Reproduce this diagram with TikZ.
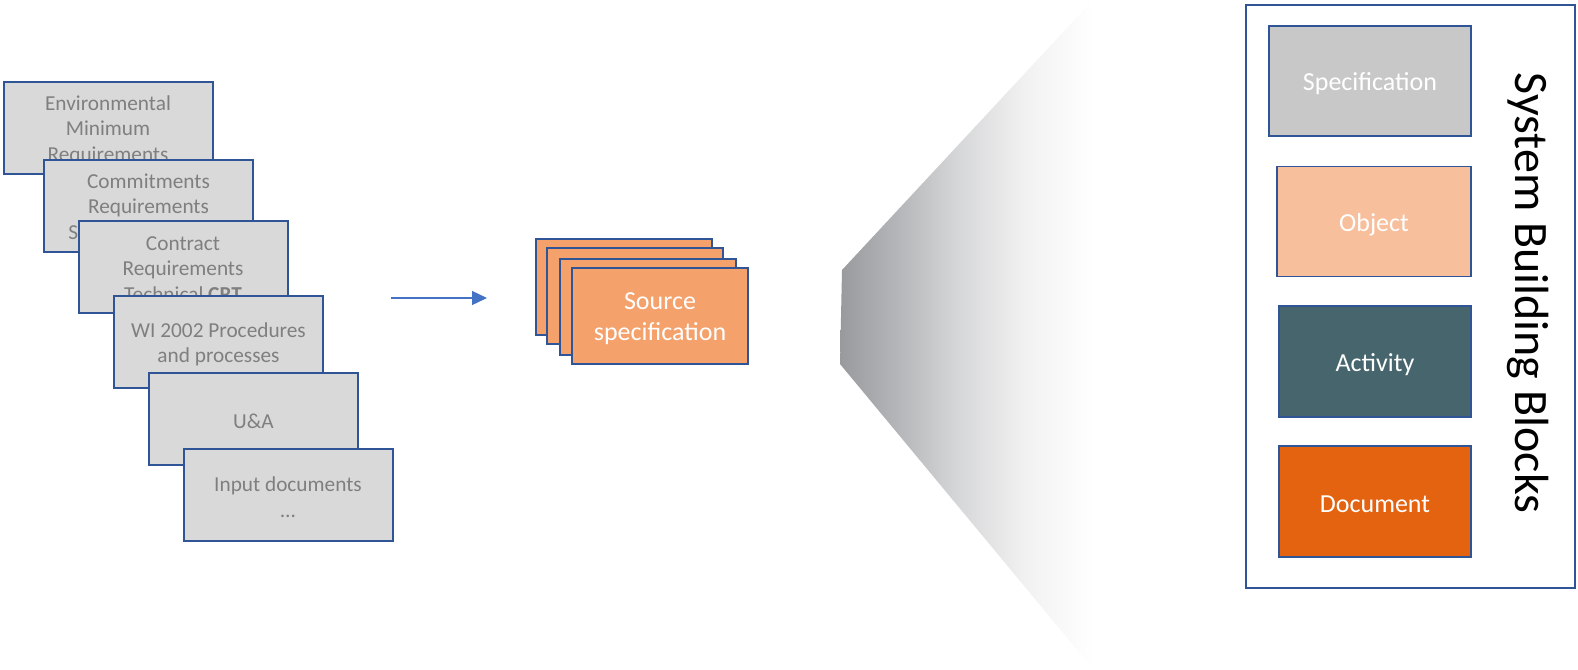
\documentclass[tikz,border=0pt]{standalone}
\usepackage{fontspec}
\setmainfont{Carlito}
\usetikzlibrary{arrows.meta}
\definecolor{docfill}{HTML}{D9D9D9}
\definecolor{docline}{HTML}{2F5597}
\definecolor{doctext}{HTML}{7F7F7F}
\definecolor{srcfill}{HTML}{F4A16B}
\definecolor{specfill}{HTML}{C8C8C8}
\definecolor{objfill}{HTML}{F8BF9C}
\definecolor{actfill}{HTML}{46656D}
\definecolor{docufill}{HTML}{E36311}
\definecolor{arrowblue}{HTML}{4472C4}
\definecolor{fanA}{HTML}{999A9E}
\definecolor{fanB}{HTML}{B5B6B9}
\definecolor{fanC}{HTML}{D5D6D7}
\definecolor{fanD}{HTML}{F1F1F1}
\pgfdeclarehorizontalshading{fanshade}{100bp}{color(0bp)=(fanA); color(25bp)=(fanA); color(36.5bp)=(fanB); color(48bp)=(fanC); color(61.5bp)=(fanD); color(75bp)=(white); color(100bp)=(white)}
\begin{document}
\begin{tikzpicture}[x=1pt,y=-1pt,
  docbox/.style={draw=docline, line width=2pt, fill=docfill,
    minimum width=209pt, minimum height=92pt, inner sep=0pt},
  doctxt/.style={text=doctext, inner sep=0pt, align=center,
    font=\fontsize{21.3}{25.6}\selectfont},
  srcbox/.style={draw=docline, line width=2pt, fill=srcfill,
    minimum width=176pt, minimum height=96pt, inner sep=0pt},
  whitetxt/.style={text=white, inner sep=0pt, align=center,
    font=\fontsize{26}{31}\selectfont},
  blockbox/.style={draw=docline, line width=1.5pt,
    minimum height=110pt, inner sep=0pt},
  panelbox/.style={draw=docline, line width=2pt, fill=white,
    minimum width=329pt, minimum height=583pt, inner sep=0pt},
  flowarrow/.style={draw=arrowblue, line width=1.3pt,
    -{Triangle[length=15pt,width=14pt]}}
]
\useasboundingbox (0,0) rectangle (1578,669);

% gradient fan
\shade[shading=fanshade] (842,270) -- (1093,0) -- (1093,669) -- (840,364) -- cycle;

% input documents
\node[docbox] (d1) at (108,127.5) {};
\node[doctxt] (d1t) at ([yshift=-2.5pt]d1.center) {Environmental\\Minimum\\Requirements};
\node[docbox] (d2) at (148.5,205.5) {};
\node[doctxt] (d2t) at ([yshift=-2.5pt]d2.center) {Commitments\\Requirements\\Specification (CRS)};
\node[docbox] (d3) at (183,266.5) {};
\node[doctxt] (d3t) at ([yshift=-2.5pt]d3.center) {Contract\\Requirements\\Technical \textbf{CRT}};
\node[docbox] (d4) at (218.5,342) {};
\node[doctxt] (d4t) at ([yshift=-2.5pt]d4.center) {WI 2002 Procedures\\and processes};
\node[docbox] (d5) at (253.5,418.5) {};
\node[doctxt] (d5t) at ([yshift=-2.5pt]d5.center) {U\&A};
\node[docbox] (d6) at (288,494.5) {};
\node[doctxt] (d6t) at ([yshift=-2.5pt]d6.center) {Input documents\\\dots};

% arrow
\coordinate (arrS) at (391,298);
\coordinate (arrE) at (487,298);
\draw[flowarrow] (arrS) -- (arrE);

% source specification stack
\node[srcbox] (s1) at (624,287) {};
\node[srcbox] (s2) at (635,296) {};
\node[srcbox] (s3) at (648,306.5) {};
\node[srcbox] (s4) at (660,316) {};
\node[whitetxt] (s4t) at ([yshift=-3pt]s4.center) {Source\\specification};

% system building blocks panel
\node[panelbox] (panel) at (1410.5,296.5) {};
\node[blockbox, fill=specfill, minimum width=202pt] (spec) at (1370,81) {};
\node[whitetxt] (spect) at ([yshift=-3pt]spec.center) {Specification};
\node[blockbox, fill=objfill, minimum width=194pt] (obj) at (1374,221.5) {};
\node[whitetxt] (objt) at ([yshift=-3pt]obj.center) {Object};
\node[blockbox, fill=actfill, minimum width=192pt, minimum height=111pt] (act) at (1375,361.5) {};
\node[whitetxt] (actt) at ([yshift=-3pt]act.center) {Activity};
\node[blockbox, fill=docufill, minimum width=192pt, minimum height=111pt] (docu) at (1375,501.5) {};
\node[whitetxt] (docut) at ([yshift=-3pt]docu.center) {Document};
\node[rotate=-90, inner sep=0pt, font=\fontsize{48}{58}\selectfont] (title) at (1528,293) {System Building Blocks};
\end{tikzpicture}
\end{document}
